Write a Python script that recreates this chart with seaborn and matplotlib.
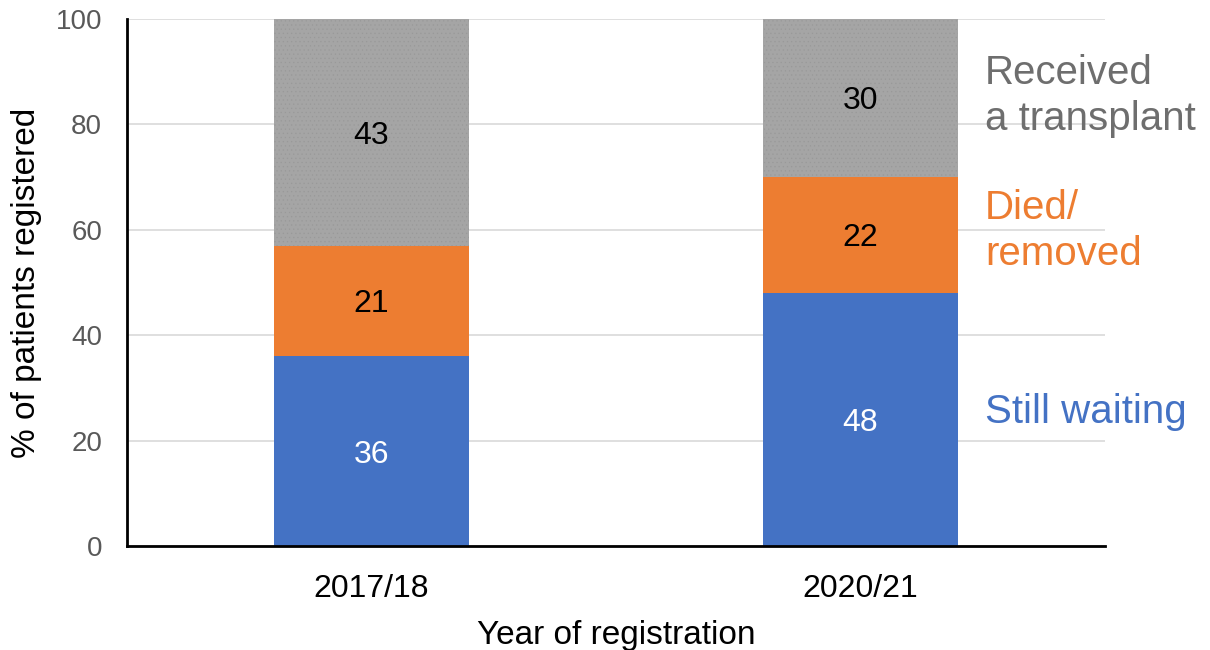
import matplotlib
matplotlib.use("Agg")
import matplotlib.pyplot as plt
import seaborn as sns
import numpy as np
import pandas as pd

years = ["2017/18", "2020/21"]
still_waiting = [36, 48]
died_removed = [21, 22]
transplant = [43, 30]

series_names = ["Still waiting", "Died/\nremoved", "Received\na transplant"]
series_vals = [still_waiting, died_removed, transplant]
colors = ["#4472C4", "#ED7D31", "#A5A5A5"]
text_colors = ["white", "black", "black"]
label_colors = ["#4472C4", "#ED7D31", "#6E6E6E"]

sns.set_theme(style="white")
plt.rcParams["font.family"] = ["Liberation Sans", "DejaVu Sans"]
plt.rcParams["hatch.linewidth"] = 0.4

fig = plt.figure(figsize=(12.1, 6.5), dpi=100)
ax = fig.add_axes([0.105, 0.16, 0.808, 0.811])

vals = np.array(series_vals, dtype=float)
tops = np.cumsum(vals, axis=0)
bottoms = tops - vals

# draw from tallest cumulative to shortest so stacks show
for i in reversed(range(len(series_vals))):
    df = pd.DataFrame({"year": years, "top": tops[i]})
    if i == 2:
        kw = dict(hatch="....", edgecolor="#999999", linewidth=0)
    else:
        kw = dict(linewidth=0)
    sns.barplot(data=df, x="year", y="top", color=colors[i], width=0.4,
                saturation=1, ax=ax, zorder=2, **kw)

for i in range(len(series_vals)):
    for j, yr in enumerate(years):
        ax.text(j, bottoms[i][j] + vals[i][j] / 2, f"{int(vals[i][j])}",
                ha="center", va="center_baseline", fontsize=23,
                color=text_colors[i], zorder=3)

# right-side series labels
label_y = [25.5, 59.8, 85.4]
for i in range(len(series_names)):
    ax.text(1.255, label_y[i], series_names[i], ha="left", va="center",
            fontsize=29, color=label_colors[i], linespacing=1.25, clip_on=False)

ax.set_xlim(-0.5, 1.5)
ax.set_ylim(0, 100)
ax.set_yticks([0, 20, 40, 60, 80, 100])
ax.yaxis.grid(True, color="#D9D9D9", linewidth=1.2, zorder=0)
ax.set_axisbelow(True)
for s in ["top", "right"]:
    ax.spines[s].set_visible(False)
for s in ["left", "bottom"]:
    ax.spines[s].set_color("black")
    ax.spines[s].set_linewidth(2)
ax.tick_params(axis="y", length=0, pad=18, labelsize=20, labelcolor="#595959")
ax.tick_params(axis="x", length=0, pad=20, labelsize=23, labelcolor="black")
ax.set_xlabel("Year of registration", fontsize=24, color="black", labelpad=12)
ax.set_ylabel("% of patients registered", fontsize=24, color="black", labelpad=10)

fig.savefig("out.png", dpi=100)
